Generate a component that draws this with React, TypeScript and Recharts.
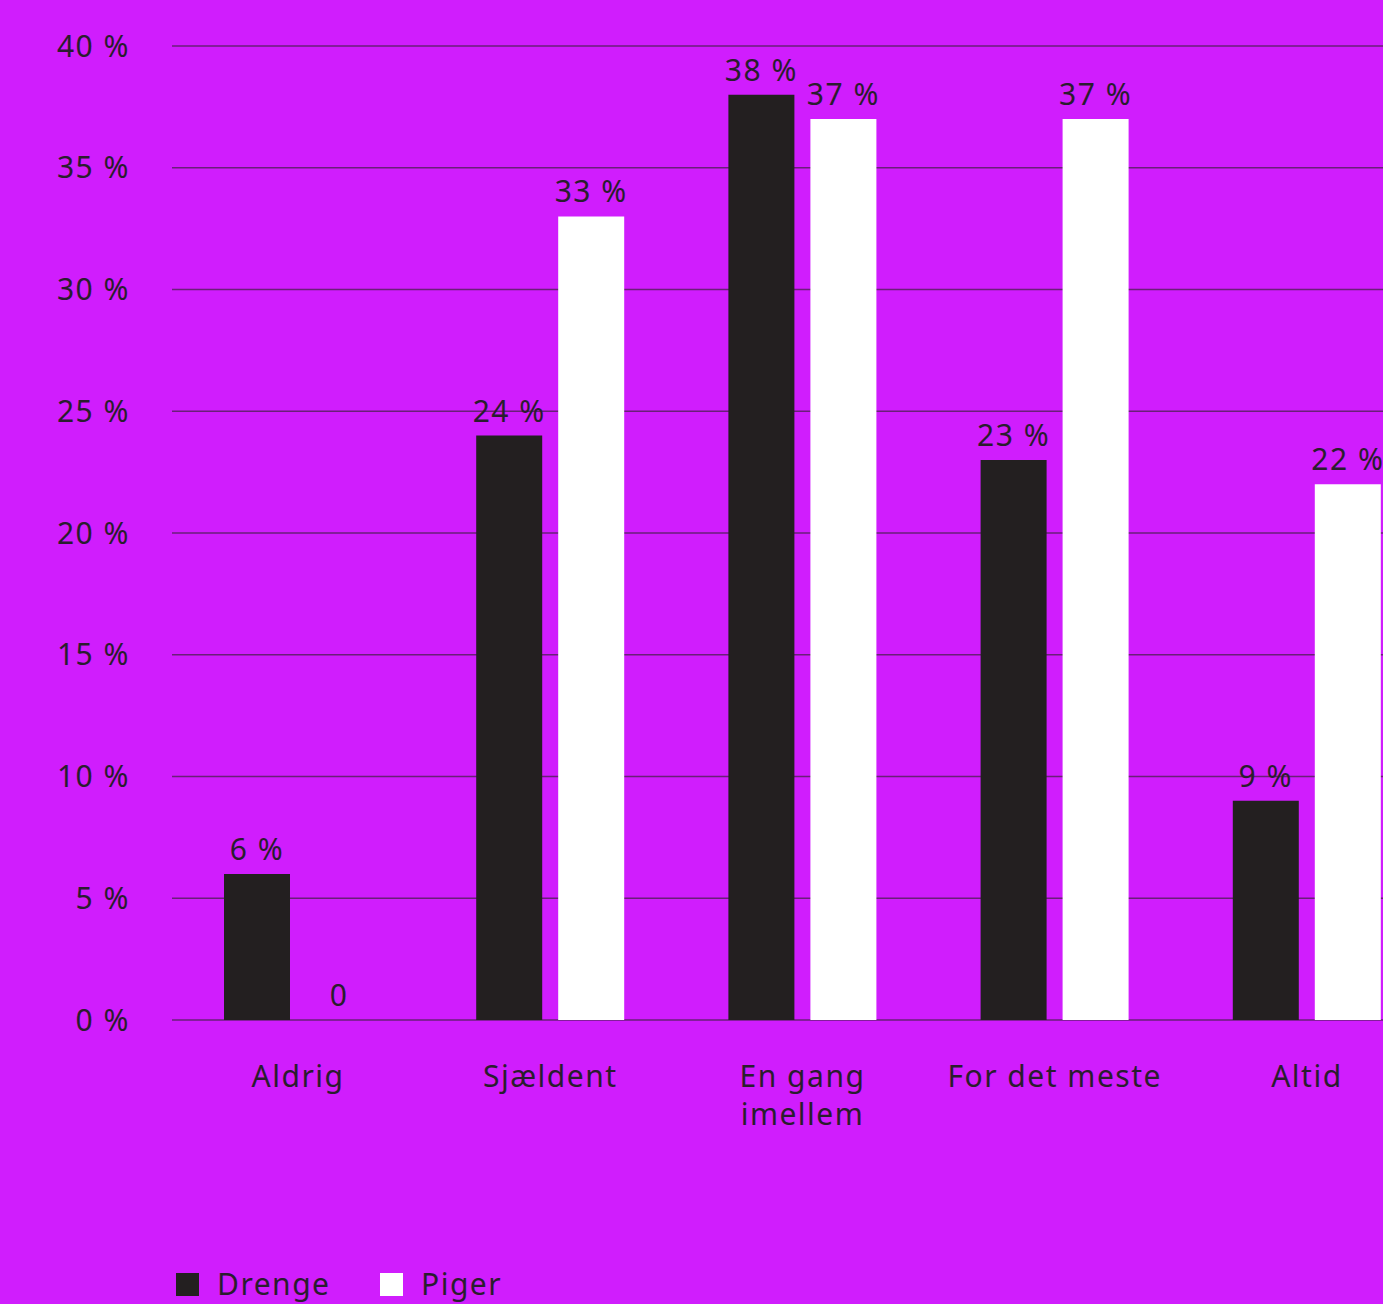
import React from 'react';
import { BarChart, Bar, XAxis, YAxis, CartesianGrid, LabelList } from 'recharts';

const categories = ['Aldrig', 'Sjældent', 'En gang imellem', 'For det meste', 'Altid'];
const categoryLines = [['Aldrig'], ['Sjældent'], ['En gang', 'imellem'], ['For det meste'], ['Altid']];
const drenge = [6, 24, 38, 23, 9];
const piger = [0, 33, 37, 37, 22];
const yTicks = [0, 5, 10, 15, 20, 25, 30, 35, 40];

const BG = '#d01dfd';
const DARK = '#231f20';
const TEXT = '#2a1d2e';
const GRID = '#6a1f78';
const FONT = '"Noto Sans", sans-serif';
const BAR_SIZE = 66;
const BAR_GAP = 16;

const chartData = categories.map((name, i) => ({ name, drenge: drenge[i], piger: piger[i] }));

const pct = (v: number) => (v === 0 ? '0' : `${v}\u00a0%`);

const XTick = (props: any) => {
  const { x, y, index } = props;
  const lines = categoryLines[index] || [];
  return (
    <text x={x} y={y} textAnchor="middle" fill={TEXT} fontSize={30} fontFamily={FONT} letterSpacing={1.5}>
      {lines.map((l, i) => (
        <tspan key={i} x={x} dy={i === 0 ? 59 : 38}>{l}</tspan>
      ))}
    </text>
  );
};

const labelText = (cx: number, y: number, v: number, key?: string) => (
  <text key={key} x={cx} y={y - 14} textAnchor="middle" fill={TEXT} fontSize={30} fontFamily={FONT} letterSpacing={1.5}>
    {pct(v)}
  </text>
);

// the Piger bar with value 0 has no rectangle, so its "0" is drawn next to the Drenge label
const DrengeLabel = (props: any) => {
  const { x, y, width, height, value, index } = props;
  if (x == null || y == null) return null;
  const cx = Number(x) + Number(width) / 2;
  const base = Number(y) + Number(height);
  const p = piger[index];
  return (
    <g>
      {labelText(cx, Number(y), Number(value), 'd')}
      {p === 0 ? labelText(cx + BAR_SIZE + BAR_GAP, base, 0, 'p') : null}
    </g>
  );
};

const PigerLabel = (props: any) => {
  const { x, y, width, value } = props;
  if (x == null || y == null || Number(value) === 0) return null;
  return labelText(Number(x) + Number(width) / 2, Number(y), Number(value));
};

const App: React.FC = () => {
  return (
    <div style={{ position: 'absolute', left: 0, top: 0, width: 1383, height: 1304, overflow: 'hidden', background: BG, fontFamily: FONT }}>
      <BarChart
        width={1433}
        height={1304}
        data={chartData}
        margin={{ top: 46, right: 0, left: 0, bottom: 0 }}
        barCategoryGap={52}
        barGap={BAR_GAP}
      >
        <CartesianGrid vertical={false} stroke={GRID} strokeWidth={1.5} />
        <XAxis dataKey="name" axisLine={false} tickLine={false} height={284} tick={<XTick />} interval={0} />
        <YAxis
          domain={[0, 40]}
          ticks={yTicks}
          width={172}
          axisLine={false}
          tickLine={false}
          tickSize={0}
          tickMargin={42}
          tickFormatter={(v: number) => `${v}\u00a0%`}
          tick={{ fill: TEXT, fontSize: 30, fontFamily: FONT, letterSpacing: 1.5 }}
        />
        <Bar dataKey="drenge" fill={DARK} barSize={BAR_SIZE} isAnimationActive={false}>
          <LabelList dataKey="drenge" content={<DrengeLabel />} />
        </Bar>
        <Bar dataKey="piger" fill="#ffffff" barSize={BAR_SIZE} isAnimationActive={false}>
          <LabelList dataKey="piger" content={<PigerLabel />} />
        </Bar>
      </BarChart>
      <div style={{ position: 'absolute', left: 176, top: 1264, display: 'flex', alignItems: 'center', color: TEXT, fontSize: 30, letterSpacing: 1.5, lineHeight: '40px' }}>
        <span style={{ width: 23, height: 23, background: DARK, display: 'inline-block', marginRight: 18 }} />
        <span style={{ width: 163 }}>Drenge</span>
        <span style={{ width: 23, height: 23, background: '#ffffff', display: 'inline-block', marginRight: 18 }} />
        <span>Piger</span>
      </div>
    </div>
  );
};

export default App;
